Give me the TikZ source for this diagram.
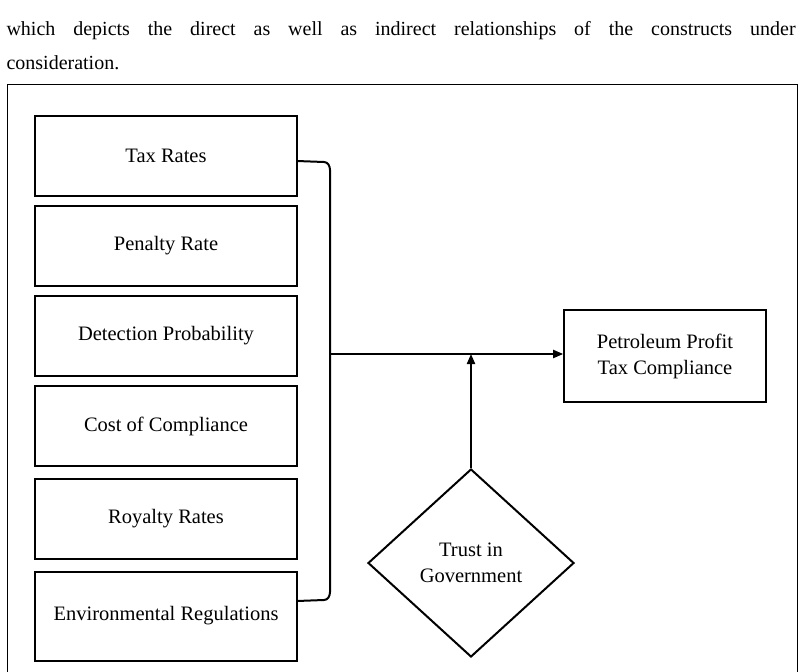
\documentclass[tikz,border=0pt]{standalone}
\usepackage{fontspec}
\setmainfont{Liberation Serif}
\usetikzlibrary{shapes.geometric, arrows.meta}
\tikzset{
  >={Triangle[length=10pt,width=8pt]},
  factor/.style={draw, line width=2pt, minimum width=262pt, minimum height=80pt, font=\fontsize{20.5}{24}\selectfont},
  outcome/.style={draw, line width=1.6pt, minimum width=202pt, minimum height=92pt, align=center, font=\fontsize{20.5}{26}\selectfont},
  moderator/.style={draw, diamond, line width=2pt, minimum width=206pt, minimum height=188pt, align=center, font=\fontsize{20.5}{26}\selectfont, inner sep=0pt},
  link/.style={line width=2pt}
}
\begin{document}
\begin{tikzpicture}[x=1pt,y=-1pt]
  \useasboundingbox (0,0) rectangle (804,672);
  % intro text
  \node[anchor=west, font=\fontsize{20}{24}\selectfont] (intro1) at (3,31) {which\hspace{17.9pt}depicts\hspace{17.9pt}the\hspace{17.9pt}direct\hspace{17.9pt}as\hspace{17.9pt}well\hspace{17.9pt}as\hspace{17.9pt}indirect\hspace{17.9pt}relationships\hspace{17.9pt}of\hspace{17.9pt}the\hspace{17.9pt}constructs\hspace{17.9pt}under};
  \node[anchor=west, font=\fontsize{20}{24}\selectfont] (intro2) at (3,63) {consideration.};
  \draw[line width=0.8pt] (7,84) -- (797,84) -- (797,680) (7,84) -- (7,680);
  % factors
  \node[factor] (tax) at (166,156) {Tax Rates};
  \node[factor] (pen) at (166,246) {Penalty Rate};
  \node[factor] (det) at (166,336) {Detection Probability};
  \node[factor] (cost) at (166,426) {Cost of Compliance};
  \node[factor] (roy) at (166,519) {Royalty Rates};
  \node[factor, minimum height=89pt] (env) at (166,616) {Environmental Regulations};
  \node[outcome] (ppt) at (665,356) {Petroleum Profit\\Tax Compliance};
  \node[moderator] (trust) at (471,563) {Trust in\\Government};
  % bracket
  \coordinate (top) at (330,170);
  \coordinate (bot) at (330,592);
  \coordinate (join) at (330,354);
  \draw[link] (297,161) -- (324,162) to[out=0,in=90] (top) -- (bot) to[out=-90,in=0] (324,600) -- (297,601);
  \draw[link,->] (join) -- (ppt.west |- join);
  \draw[link,->] (trust.north) -- (trust.north |- join);
\end{tikzpicture}
\end{document}
